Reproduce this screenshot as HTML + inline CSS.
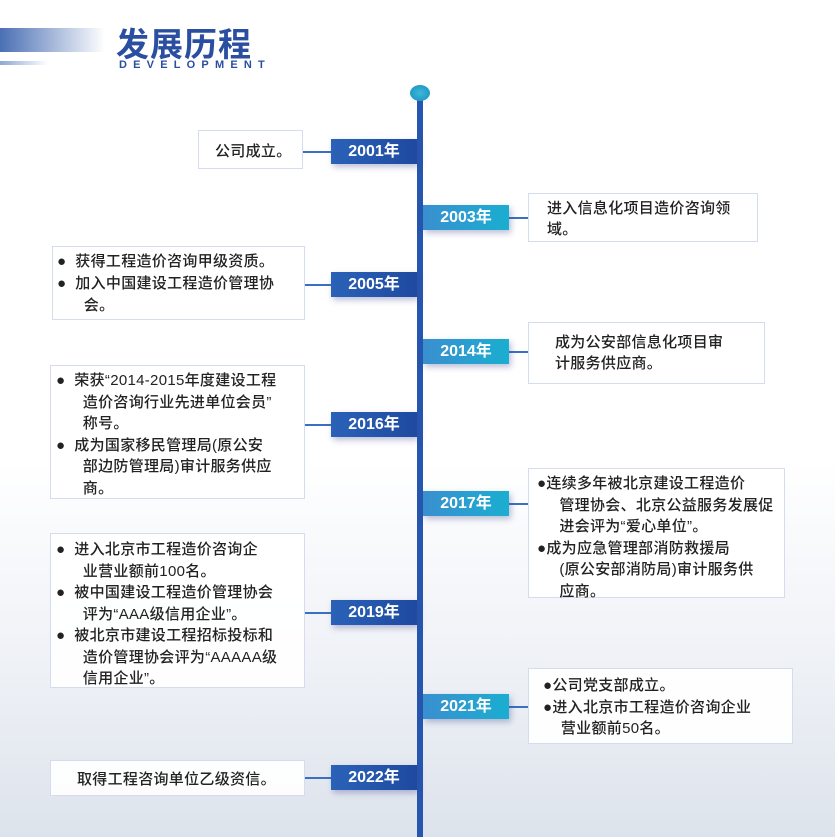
<!DOCTYPE html><html><head><meta charset="utf-8"><style>
body{margin:0}
#p{position:relative;width:835px;height:837px;overflow:hidden;background:linear-gradient(#fff 0%,#fff 55%,#eef1f6 80%,#dde3ec 100%);font-family:"Liberation Sans","Noto Sans CJK SC",sans-serif}
.b{position:absolute;background:rgba(255,255,255,.92);border:1.5px solid #d5dcef;box-sizing:border-box;font-size:15px;color:#222;font-weight:500;letter-spacing:0.3px}
.t{position:absolute;white-space:nowrap}
.l{position:absolute;height:25px;width:86px;color:#fff;font-weight:bold;font-size:16px;text-align:center;line-height:25px;box-shadow:2px 3px 6px rgba(60,70,140,.35)}
.L{left:331px;background:linear-gradient(90deg,#2a62b8,#1e4aa0)}
.R{left:423px;background:linear-gradient(90deg,#3a8fcf,#1aaed0)}
.c{position:absolute;height:1.5px;background:#3b6fc0}
</style></head><body><div id="p">
<div style="position:absolute;left:0;top:28px;width:105px;height:24px;background:linear-gradient(90deg,#4a6fb4,#fff)"></div>
<div style="position:absolute;left:0;top:61px;width:48px;height:4px;background:linear-gradient(90deg,#8ea7d4,#fff)"></div>
<div class="t" style="left:116px;top:18px;font-size:33px;font-weight:bold;color:#2a4ea0;letter-spacing:1px">发展历程</div>
<div class="t" style="left:119px;top:59px;font-size:11px;font-weight:bold;color:#2a4ea0;letter-spacing:6.2px">DEVELOPMENT</div>
<div style="position:absolute;left:417px;top:95px;width:6px;height:742px;background:#2656b0"></div>
<div style="position:absolute;left:410px;top:85px;width:20px;height:16px;border-radius:50%;background:radial-gradient(#3cb8d8,#1a8dc0)"></div>

<div class="c" style="left:303px;top:151px;width:28px"></div>
<div class="b" style="left:198px;top:130px;width:105px;height:39px"><div class="t" style="left:16px;top:9px">公司成立。</div></div>
<div class="l L" style="top:139px">2001年</div>

<div class="c" style="left:508px;top:217px;width:20px"></div>
<div class="b" style="left:528px;top:193px;width:230px;height:49px"><div class="t" style="left:18px;top:4px;line-height:21px">进入信息化项目造价咨询领<br>域。</div></div>
<div class="l R" style="top:205px">2003年</div>

<div class="c" style="left:305px;top:284px;width:26px"></div>
<div class="b" style="left:52px;top:246px;width:253px;height:74px"><div class="t" style="left:4px;top:4px;line-height:22px">●&nbsp; 获得工程造价咨询甲级资质。<br>●&nbsp; 加入中国建设工程造价管理协<br>&nbsp;&nbsp;&nbsp;&nbsp;&nbsp; 会。</div></div>
<div class="l L" style="top:272px">2005年</div>

<div class="c" style="left:508px;top:351px;width:20px"></div>
<div class="b" style="left:528px;top:322px;width:237px;height:62px"><div class="t" style="left:26px;top:9px;line-height:21px">成为公安部信息化项目审<br>计服务供应商。</div></div>
<div class="l R" style="top:339px">2014年</div>

<div class="c" style="left:305px;top:424px;width:26px"></div>
<div class="b" style="left:50px;top:365px;width:255px;height:134px"><div class="t" style="left:5px;top:4px;line-height:21.5px">●&nbsp; 荣获“2014-2015年度建设工程<br>&nbsp;&nbsp;&nbsp;&nbsp;&nbsp; 造价咨询行业先进单位会员”<br>&nbsp;&nbsp;&nbsp;&nbsp;&nbsp; 称号。<br>●&nbsp; 成为国家移民管理局(原公安<br>&nbsp;&nbsp;&nbsp;&nbsp;&nbsp; 部边防管理局)审计服务供应<br>&nbsp;&nbsp;&nbsp;&nbsp;&nbsp; 商。</div></div>
<div class="l L" style="top:412px">2016年</div>

<div class="c" style="left:508px;top:503px;width:20px"></div>
<div class="b" style="left:528px;top:468px;width:257px;height:130px"><div class="t" style="left:8px;top:4px;line-height:21.5px">●连续多年被北京建设工程造价<br>&nbsp;&nbsp;&nbsp;&nbsp; 管理协会、北京公益服务发展促<br>&nbsp;&nbsp;&nbsp;&nbsp; 进会评为“爱心单位”。<br>●成为应急管理部消防救援局<br>&nbsp;&nbsp;&nbsp;&nbsp; (原公安部消防局)审计服务供<br>&nbsp;&nbsp;&nbsp;&nbsp; 应商。</div></div>
<div class="l R" style="top:491px">2017年</div>

<div class="c" style="left:305px;top:612px;width:26px"></div>
<div class="b" style="left:50px;top:533px;width:255px;height:155px"><div class="t" style="left:5px;top:5px;line-height:21.5px">●&nbsp; 进入北京市工程造价咨询企<br>&nbsp;&nbsp;&nbsp;&nbsp;&nbsp; 业营业额前100名。<br>●&nbsp; 被中国建设工程造价管理协会<br>&nbsp;&nbsp;&nbsp;&nbsp;&nbsp; 评为“AAA级信用企业”。<br>●&nbsp; 被北京市建设工程招标投标和<br>&nbsp;&nbsp;&nbsp;&nbsp;&nbsp; 造价管理协会评为“AAAAA级<br>&nbsp;&nbsp;&nbsp;&nbsp;&nbsp; 信用企业”。</div></div>
<div class="l L" style="top:600px">2019年</div>

<div class="c" style="left:508px;top:706px;width:20px"></div>
<div class="b" style="left:528px;top:668px;width:265px;height:76px"><div class="t" style="left:14px;top:6px;line-height:21.5px">●公司党支部成立。<br>●进入北京市工程造价咨询企业<br>&nbsp;&nbsp;&nbsp; 营业额前50名。</div></div>
<div class="l R" style="top:694px">2021年</div>

<div class="c" style="left:305px;top:777px;width:26px"></div>
<div class="b" style="left:50px;top:760px;width:255px;height:36px"><div class="t" style="left:26px;top:7px">取得工程咨询单位乙级资信。</div></div>
<div class="l L" style="top:765px">2022年</div>
</div></body></html>
